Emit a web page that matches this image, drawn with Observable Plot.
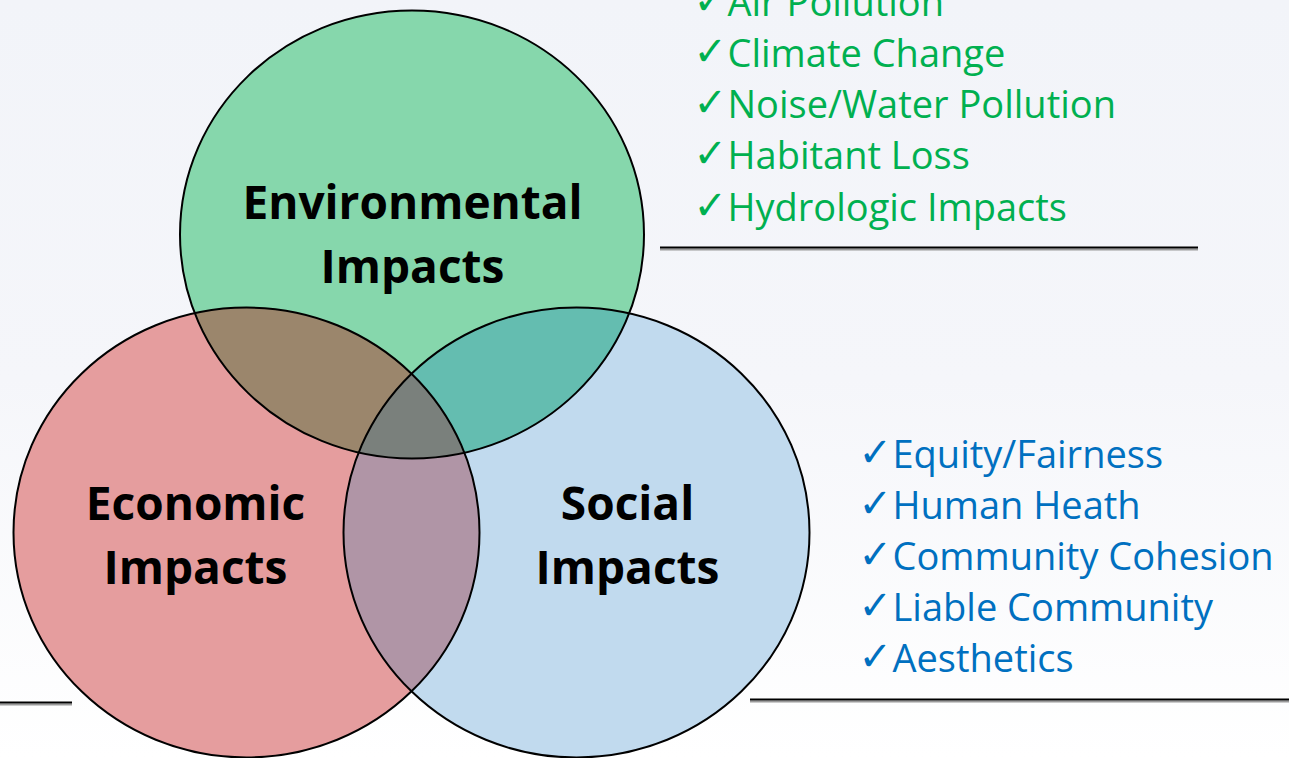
<!DOCTYPE html>
<html><head><meta charset="utf-8">
<script src="https://cdn.jsdelivr.net/npm/d3@7"></script>
<script src="https://cdn.jsdelivr.net/npm/@observablehq/plot@0.6"></script>
<style>
html,body{margin:0;padding:0;}
body{width:1289px;height:758px;overflow:hidden;background:linear-gradient(to bottom,#f2f4f9 0%,#f5f6fa 50%,#ffffff 100%);}
#chart svg{display:block;}
</style></head><body><div id="chart"></div><script>
// ---------- data ----------
const setNames = ["Environmental Impacts", "Economic Impacts", "Social Impacts"];
const pairOverlaps = [
  ["Environmental Impacts", "Economic Impacts"],
  ["Environmental Impacts", "Social Impacts"],
  ["Economic Impacts", "Social Impacts"]
];
const tripleOverlap = ["Environmental Impacts", "Economic Impacts", "Social Impacts"];
const environmentalItems = ["Air Pollution", "Climate Change", "Noise/Water Pollution", "Habitant Loss", "Hydrologic Impacts"];
const socialItems = ["Equity/Fairness", "Human Heath", "Community Cohesion", "Liable Community", "Aesthetics"];

// ---------- layout & style ----------
const W = 1289, H = 758;
const ASPECT = 224 / 232;
const setLayout = {
  "Environmental Impacts": {cx: 411.5, cy: 234, rx: 232, fill: "#86d7ac", lx: 412, ly: [218, 282]},
  "Economic Impacts":      {cx: 246,   cy: 532, rx: 233, fill: "#e59d9e", lx: 195, ly: [519, 583]},
  "Social Impacts":        {cx: 576,   cy: 532, rx: 233, fill: "#c1daee", lx: 627, ly: [519, 583]}
};
const overlapFill = {
  "Environmental Impacts|Economic Impacts": "#9b866c",
  "Environmental Impacts|Social Impacts": "#64bdb0",
  "Economic Impacts|Social Impacts": "#b095a6",
  "triple": "#7a807c"
};
const envList = {checkX: 693, textX: 727, y0: 15, step: 51.3, color: "#00b050"};
const socList = {checkX: 858, textX: 892, y0: 467, step: 51.2, color: "#0070c0"};
const rules = [
  {x1: 660, x2: 1198, y: 247},
  {x1: 750, x2: 1289, y: 699},
  {x1: 0, x2: 72, y: 702}
];

const KAPPA = 0.5522847498;
const ellipseSymbol = {
  draw(ctx, size) {
    const rx = Math.sqrt(size / Math.PI), ry = rx * ASPECT, k = KAPPA;
    ctx.moveTo(rx, 0);
    ctx.bezierCurveTo(rx, k * ry, k * rx, ry, 0, ry);
    ctx.bezierCurveTo(-k * rx, ry, -rx, k * ry, -rx, 0);
    ctx.bezierCurveTo(-rx, -k * ry, -k * rx, -ry, 0, -ry);
    ctx.bezierCurveTo(k * rx, -ry, rx, -k * ry, rx, 0);
    ctx.closePath();
  }
};

const labelRows = setNames.flatMap(n => n.split(" ").map((t, i) => ({name: n, text: t, row: i})));
const dotOpts = (fill) => ({
  x: d => setLayout[d].cx, y: d => setLayout[d].cy, r: d => setLayout[d].rx,
  symbol: ellipseSymbol, fill, stroke: "none"
});

const itemFont = "'Open Sans', Lato, sans-serif";
const listMarks = (items, L) => [
  Plot.text(items, {x: () => L.checkX, y: (d, i) => L.y0 + i * L.step - 2, text: () => "\u2713",
    fontFamily: "DejaVu Sans", fontWeight: "bold", fontSize: 40, fill: L.color, textAnchor: "start", lineAnchor: "bottom"}),
  Plot.text(items, {x: () => L.textX, y: (d, i) => L.y0 + i * L.step, text: d => d,
    fontFamily: itemFont, fontSize: 38, fill: L.color, textAnchor: "start", lineAnchor: "bottom"})
];

const plot = Plot.plot({
  width: W, height: H,
  marginTop: 0, marginRight: 0, marginBottom: 0, marginLeft: 0,
  x: {domain: [0, W], range: [0, W], axis: null},
  y: {domain: [0, H], range: [0, H], axis: null},
  r: {type: "linear", domain: [0, W], range: [0, W]},
  style: {background: "transparent", overflow: "visible"},
  marks: [
    Plot.dot(setNames, dotOpts(d => setLayout[d].fill)),
    ...pairOverlaps.map(([a, b]) => Plot.dot([b], dotOpts(() => overlapFill[a + "|" + b]))),
    Plot.dot([tripleOverlap[2]], dotOpts(() => overlapFill.triple)),
    Plot.dot(setNames, {x: d => setLayout[d].cx, y: d => setLayout[d].cy, r: d => setLayout[d].rx,
      symbol: ellipseSymbol, fill: "none", stroke: "#000", strokeWidth: 2}),
    Plot.text(labelRows, {x: d => setLayout[d.name].lx, y: d => setLayout[d.name].ly[d.row], text: "text",
      fontFamily: itemFont, fontWeight: "bold", fontSize: 46, fill: "#000", textAnchor: "middle", lineAnchor: "bottom"}),
    ...listMarks(environmentalItems, envList),
    ...listMarks(socialItems, socList),
    Plot.ruleY(rules, {x1: "x1", x2: "x2", y: "y", stroke: "#9a9a9a", strokeWidth: 2, dy: 2}),
    Plot.ruleY(rules, {x1: "x1", x2: "x2", y: "y", stroke: "#000", strokeWidth: 2})
  ]
});

// clip overlap marks to the intersecting ellipses
const svgns = "http://www.w3.org/2000/svg";
const xs = plot.scale("x"), ys = plot.scale("y");
const defs = d3.select(plot).insert("defs", ":first-child");
setNames.forEach((n, i) => {
  const L = setLayout[n];
  defs.append("clipPath").attr("id", "clip-set-" + i).append("ellipse")
    .attr("cx", xs.apply(L.cx)).attr("cy", ys.apply(L.cy)).attr("rx", L.rx).attr("ry", L.rx * ASPECT);
});
const dotGroups = d3.select(plot).selectAll('g[aria-label="dot"]').nodes();
pairOverlaps.forEach(([a], k) => {
  dotGroups[1 + k].setAttribute("clip-path", `url(#clip-set-${setNames.indexOf(a)})`);
});
{
  const g = dotGroups[4];
  const wrap = document.createElementNS(svgns, "g");
  g.parentNode.insertBefore(wrap, g);
  wrap.appendChild(g);
  wrap.setAttribute("clip-path", `url(#clip-set-${setNames.indexOf(tripleOverlap[0])})`);
  g.setAttribute("clip-path", `url(#clip-set-${setNames.indexOf(tripleOverlap[1])})`);
}
document.getElementById("chart").appendChild(plot);
</script></body></html>
